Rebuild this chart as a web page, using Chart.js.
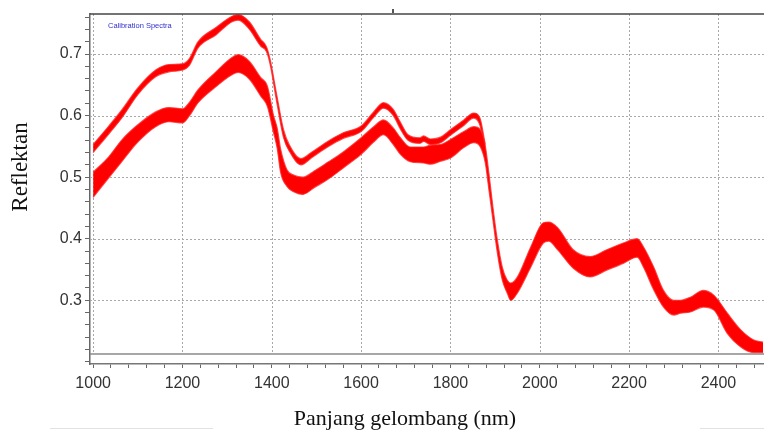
<!DOCTYPE html>
<html>
<head>
<meta charset="utf-8">
<script src="https://cdn.jsdelivr.net/npm/chart.js@4"></script>
<style>
  html, body { margin: 0; padding: 0; background: #fff; }
</style>
</head>
<body>
<canvas id="spectraChart" width="764" height="430"></canvas>
<script>
//=[ Data ]=====================================================================

// upper group of spectra (separate up to ~1875 nm, then merges)
const upperNm = [1000, 1035, 1065, 1100, 1140, 1170, 1200, 1215, 1235, 1275,
  1310, 1325, 1350, 1375, 1388, 1396, 1412, 1426, 1441, 1465, 1490, 1525, 1560,
  1600, 1628, 1650, 1672, 1688, 1705, 1732, 1740, 1755, 1778, 1800, 1830, 1852,
  1866, 1878];
const upperTop = [0.553, 0.583, 0.610, 0.645, 0.674, 0.683, 0.684, 0.692,
  0.720, 0.743, 0.761, 0.764, 0.752, 0.724, 0.712, 0.692, 0.630, 0.578, 0.550,
  0.530, 0.541, 0.558, 0.572, 0.583, 0.606, 0.621, 0.610, 0.589, 0.569, 0.564,
  0.567, 0.562, 0.565, 0.577, 0.593, 0.604, 0.596, 0.553];
const upperBottom = [0.540, 0.570, 0.597, 0.634, 0.663, 0.671, 0.674, 0.681,
  0.710, 0.731, 0.752, 0.755, 0.740, 0.713, 0.704, 0.684, 0.618, 0.565, 0.540,
  0.520, 0.532, 0.549, 0.563, 0.574, 0.597, 0.612, 0.600, 0.578, 0.560, 0.555,
  0.558, 0.553, 0.556, 0.568, 0.584, 0.596, 0.584, 0.540];

// lower (main) group of spectra
const lowerNm = [1000, 1035, 1065, 1100, 1140, 1170, 1200, 1215, 1235, 1275,
  1310, 1325, 1350, 1375, 1390, 1404, 1412, 1420, 1434, 1450, 1470, 1495, 1525,
  1560, 1600, 1628, 1650, 1672, 1688, 1710, 1740, 1755, 1778, 1800, 1830, 1852,
  1867, 1878, 1886, 1895, 1905, 1916, 1927, 1935, 1950, 1980, 2008, 2020, 2040,
  2075, 2113, 2150, 2187, 2218, 2232, 2255, 2277, 2300, 2315, 2337, 2366, 2390,
  2420, 2450, 2478, 2500];
const lowerTop = [0.508, 0.533, 0.561, 0.585, 0.606, 0.613, 0.611, 0.621,
  0.642, 0.671, 0.694, 0.699, 0.688, 0.662, 0.648, 0.600, 0.580, 0.545, 0.512,
  0.503, 0.500, 0.510, 0.524, 0.541, 0.564, 0.582, 0.593, 0.580, 0.564, 0.549,
  0.549, 0.552, 0.553, 0.561, 0.574, 0.582, 0.577, 0.551, 0.507, 0.452, 0.398,
  0.354, 0.333, 0.328, 0.338, 0.387, 0.426, 0.427, 0.418, 0.382, 0.371, 0.382,
  0.393, 0.400, 0.387, 0.354, 0.316, 0.300, 0.300, 0.305, 0.316, 0.308, 0.279,
  0.252, 0.236, 0.232];
const lowerBottom = [0.467, 0.499, 0.526, 0.557, 0.582, 0.590, 0.588, 0.599,
  0.621, 0.647, 0.666, 0.670, 0.659, 0.632, 0.615, 0.572, 0.547, 0.507, 0.485,
  0.476, 0.472, 0.483, 0.496, 0.515, 0.537, 0.557, 0.569, 0.553, 0.537, 0.525,
  0.523, 0.521, 0.526, 0.531, 0.548, 0.556, 0.549, 0.523, 0.480, 0.431, 0.377,
  0.333, 0.312, 0.300, 0.312, 0.354, 0.393, 0.396, 0.382, 0.352, 0.338, 0.349,
  0.360, 0.370, 0.354, 0.317, 0.289, 0.276, 0.279, 0.281, 0.289, 0.284, 0.246,
  0.224, 0.215, 0.215];

const xLabelTicks = [1000, 1200, 1400, 1600, 1800, 2000, 2200, 2400];
const yLabelTicks = [0.3, 0.4, 0.5, 0.6, 0.7];

const xTitle = "Panjang gelombang (nm)";
const yTitle = "Reflektan";
const boxLabel = "Calibration Spectra";

//=[ Chart ]====================================================================

const toPoints = (xs, ys) => xs.map((x, i) => ({ x: x, y: ys[i] }));

const tickFont = { family: "'Liberation Sans Narrow', 'Liberation Sans', Arial", size: 16 };
const edgeColor = "rgba(255, 40, 40, 0.8)";
const bandColor = "rgb(255, 0, 0)";

function bandEdge(label, xs, ys, fill) {
  return {
    label: label,
    data: toPoints(xs, ys),
    borderColor: edgeColor,
    borderWidth: 1.2,
    backgroundColor: bandColor,
    fill: fill,
    pointRadius: 0,
    cubicInterpolationMode: "monotone",
  };
}

const framePlugin = {
  id: "frame",
  beforeDatasetsDraw(chart) {
    const { ctx, chartArea: a, scales: { x, y } } = chart;
    const floor = a.bottom - 10;
    ctx.save();
    ctx.strokeStyle = "#a8a8a8";
    ctx.lineWidth = 1;
    ctx.setLineDash([2, 2]);
    ctx.beginPath();
    xLabelTicks.forEach((v) => {
      const px = Math.round(x.getPixelForValue(v)) + 0.5;
      ctx.moveTo(px, a.top);
      ctx.lineTo(px, floor);
    });
    yLabelTicks.forEach((v) => {
      const py = Math.round(y.getPixelForValue(v)) + 0.5;
      ctx.moveTo(a.left, py);
      ctx.lineTo(a.right, py);
    });
    ctx.stroke();
    ctx.restore();
  },
  afterDraw(chart) {
    const { ctx, chartArea: a } = chart;
    ctx.save();
    // frame lines
    ctx.strokeStyle = "#8a8a8a";
    ctx.lineWidth = 1.5;
    ctx.beginPath();
    ctx.moveTo(a.left, a.bottom - 10);
    ctx.lineTo(a.right, a.bottom - 10);
    ctx.stroke();
    ctx.strokeStyle = "#444";
    ctx.beginPath();
    ctx.moveTo(a.left, a.top);
    ctx.lineTo(a.right, a.top);
    ctx.stroke();
    ctx.fillStyle = "#555";
    ctx.fillRect(392, 9, 2, 4);
    // faint page rules at the bottom
    ctx.strokeStyle = "#e2e2e2";
    ctx.lineWidth = 1;
    ctx.beginPath();
    ctx.moveTo(50, 428.5);
    ctx.lineTo(213, 428.5);
    ctx.moveTo(700, 428.5);
    ctx.lineTo(764, 428.5);
    ctx.stroke();
    // small label in the plot
    ctx.fillStyle = "#3030d0";
    ctx.font = "7.5px 'Liberation Sans Narrow', 'Liberation Sans'";
    ctx.textBaseline = "alphabetic";
    ctx.fillText(boxLabel, 108, 28);
    // axis titles
    ctx.fillStyle = "#111";
    ctx.font = "22px 'Liberation Serif', 'Times New Roman', serif";
    ctx.textAlign = "center";
    ctx.fillText(xTitle, 405, 425);
    ctx.font = "23px 'Liberation Serif', 'Times New Roman', serif";
    ctx.translate(27, 167);
    ctx.rotate(-Math.PI / 2);
    ctx.fillText(yTitle, 0, 0);
    ctx.restore();
  },
};

const spectraConfig = {
  type: "line",
  data: {
    datasets: [
      bandEdge("lower top", lowerNm, lowerTop, false),
      bandEdge("lower bottom", lowerNm, lowerBottom, "-1"),
      bandEdge("upper top", upperNm, upperTop, false),
      bandEdge("upper bottom", upperNm, upperBottom, "-1"),
    ],
  },
  options: {
    responsive: false,
    animation: false,
    devicePixelRatio: 1,
    layout: { padding: { top: 14, left: 0, right: 0, bottom: 0 } },
    scales: {
      x: {
        type: "linear",
        min: 993,
        max: 2502,
        afterFit: (scale) => { scale.height = 66; },
        ticks: {
          stepSize: 40,
          includeBounds: false,
          autoSkip: false,
          maxRotation: 0,
          padding: 6,
          color: "#333",
          font: tickFont,
          callback: (v) => (xLabelTicks.includes(v) ? String(v) : ""),
        },
        grid: { drawOnChartArea: false, tickLength: 4, tickColor: "#666" },
        border: { color: "#777", width: 1.5 },
      },
      y: {
        type: "linear",
        min: 0.1965,
        max: 0.765,
        afterFit: (scale) => { scale.width = 90; },
        ticks: {
          stepSize: 0.02,
          includeBounds: false,
          autoSkip: false,
          padding: 3,
          color: "#333",
          font: tickFont,
          callback: (v) =>
            yLabelTicks.some((t) => Math.abs(t - v) < 1e-6) ? v.toFixed(1) : "",
        },
        grid: { drawOnChartArea: false, tickLength: 5, tickColor: "#666" },
        border: { color: "#666", width: 1.5 },
      },
    },
    plugins: {
      legend: { display: false },
      tooltip: { enabled: false },
    },
  },
  plugins: [framePlugin],
};

new Chart(document.getElementById("spectraChart"), spectraConfig);
</script>
</body>
</html>
